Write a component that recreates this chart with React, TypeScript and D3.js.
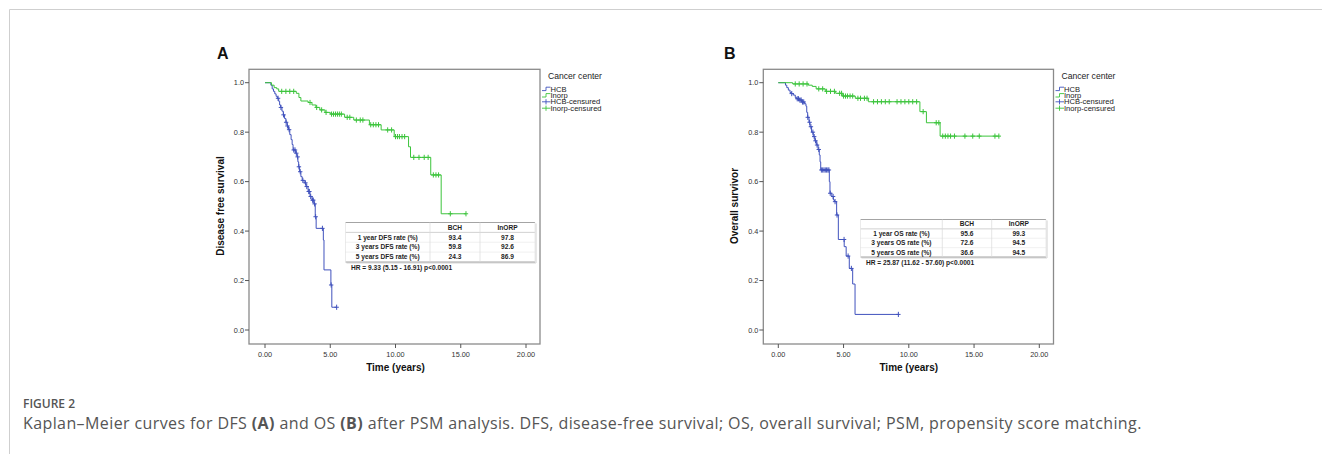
import * as d3 from "d3";
import { useEffect, useRef } from "react";

// axis ticks
const timeTicks = [0, 5, 10, 15, 20];
const survTicks = [0, 0.2, 0.4, 0.6, 0.8, 1.0];
const legendItems = ["HCB", "Inorp", "HCB-censured", "Inorp-censured"];
const colHeaders = ["BCH", "InORP"];

// Panel A - disease free survival (event times / survival after event / censored times)
const dfsHcbT = [0.45, 0.55, 0.65, 0.75, 0.85, 0.95, 1.05, 1.12, 1.2, 1.3, 1.4, 1.5, 1.6, 1.7, 1.8, 1.9, 2.0, 2.08, 2.15, 2.35, 2.45, 2.52, 2.58, 2.65, 2.75, 2.85, 3.0, 3.15, 3.3, 3.45, 3.6, 3.75, 3.85, 3.92, 4.47, 4.52, 5.05, 5.12];
const dfsHcbS = [0.99, 0.975, 0.965, 0.955, 0.945, 0.937, 0.925, 0.91, 0.9, 0.885, 0.87, 0.855, 0.84, 0.825, 0.81, 0.79, 0.77, 0.75, 0.728, 0.715, 0.7, 0.68, 0.66, 0.64, 0.62, 0.605, 0.595, 0.58, 0.56, 0.54, 0.525, 0.51, 0.458, 0.411, 0.364, 0.243, 0.182, 0.092];
const dfsHcbC = [1.0, 1.22, 1.42, 1.62, 1.72, 1.85, 2.2, 2.3, 2.4, 2.5, 2.6, 2.7, 2.9, 3.1, 3.2, 3.35, 3.4, 3.5, 3.65, 3.7, 3.8, 3.88, 4.4, 5.07, 5.49];
const dfsInorpT = [0.5, 0.7, 0.9, 1.05, 2.4, 2.6, 2.75, 3.3, 3.6, 3.9, 4.2, 4.6, 5.0, 6.1, 6.8, 8.0, 8.9, 9.9, 11.0, 11.15, 12.7, 13.5];
const dfsInorpS = [0.99, 0.98, 0.975, 0.965, 0.957, 0.94, 0.926, 0.92, 0.91, 0.9, 0.89, 0.88, 0.873, 0.86, 0.849, 0.83, 0.809, 0.782, 0.741, 0.698, 0.627, 0.47];
const dfsInorpC = [1.28, 1.6, 1.9, 2.2, 3.45, 3.96, 4.34, 4.68, 5.1, 5.25, 5.4, 5.55, 5.7, 5.85, 6.3, 6.5, 7.0, 7.3, 7.5, 8.1, 8.3, 8.5, 8.7, 9.4, 9.7, 10.0, 10.15, 10.3, 10.5, 10.7, 11.4, 11.8, 12.2, 12.5, 12.9, 13.1, 13.3, 14.2, 15.4];
const dfsRows = ["1 year DFS rate (%)", "3 years DFS rate (%)", "5 years DFS rate (%)"];
const dfsBch = ["93.4", "59.8", "24.3"];
const dfsInorp = ["97.8", "92.6", "86.9"];
const dfsHr = "HR = 9.33 (5.15 - 16.91) p<0.0001";

// Panel B - overall survival
const osHcbT = [0.55, 0.65, 0.77, 0.9, 1.02, 1.15, 1.3, 1.41, 1.6, 1.79, 2.0, 2.12, 2.18, 2.25, 2.35, 2.43, 2.55, 2.68, 2.8, 2.94, 3.05, 3.14, 3.2, 3.25, 3.91, 3.96, 4.1, 4.22, 4.3, 4.47, 4.6, 5.05, 5.2, 5.44, 5.7, 5.88];
const osHcbS = [0.99, 0.98, 0.97, 0.96, 0.956, 0.95, 0.94, 0.935, 0.93, 0.922, 0.915, 0.905, 0.88, 0.86, 0.84, 0.822, 0.8, 0.782, 0.765, 0.748, 0.73, 0.708, 0.68, 0.647, 0.6, 0.553, 0.54, 0.526, 0.519, 0.465, 0.366, 0.337, 0.299, 0.249, 0.186, 0.063];
const osHcbC = [1.03, 1.45, 1.55, 1.65, 1.75, 1.85, 1.95, 2.26, 2.4, 2.5, 2.65, 2.75, 2.85, 2.97, 3.1, 3.3, 3.4, 3.5, 3.6, 3.7, 3.8, 3.88, 3.98, 4.2, 4.35, 4.5, 5.04, 5.35, 5.6, 9.2];
const osInorpT = [1.1, 2.3, 2.6, 2.9, 3.6, 4.4, 4.9, 5.9, 6.9, 10.85, 11.35, 12.4];
const osInorpS = [0.995, 0.99, 0.985, 0.975, 0.965, 0.957, 0.946, 0.937, 0.923, 0.883, 0.838, 0.784];
const osInorpC = [1.3, 1.6, 1.9, 2.2, 3.1, 3.4, 3.7, 4.0, 4.3, 4.7, 4.85, 5.0, 5.15, 5.3, 5.5, 5.7, 6.1, 6.3, 6.6, 6.8, 7.3, 7.6, 7.9, 8.2, 8.5, 9.1, 9.4, 9.7, 10.0, 10.3, 10.6, 11.1, 12.1, 12.3, 12.6, 12.8, 13.0, 13.2, 13.5, 14.3, 14.9, 15.4, 16.6, 16.9];
const osRows = ["1 year OS rate (%)", "3 years OS rate (%)", "5 years OS rate (%)"];
const osBch = ["95.6", "72.6", "36.6"];
const osInorp = ["99.3", "94.5", "94.5"];
const osHr = "HR = 25.87 (11.62 - 57.60) p<0.0001";

const BLUE = "#4052bd";
const GREEN = "#3cc43c";
const FONT = "'Liberation Sans', Arial, sans-serif";

type Series = { t: number[]; s: number[]; c: number[]; color: string };

function survAt(sr: Series, t: number) {
  let v = 1;
  sr.t.forEach((e, i) => {
    if (e <= t) v = sr.s[i];
  });
  return v;
}

function drawPanel(svg: any, cfg: any) {
  const x = d3.scaleLinear().domain([0, 20]).range([cfg.x0, cfg.x20]);
  const y = d3.scaleLinear().domain([0, 1]).range([330, 82.7]);
  const g = svg.append("g");

  // panel letter
  g.append("text").attr("x", cfg.letterX).attr("y", 59).attr("font-family", FONT)
    .attr("font-weight", "bold").attr("font-size", 16).attr("fill", "#111").text(cfg.letter);

  // plot frame
  g.append("rect").attr("x", cfg.l).attr("y", 69.3).attr("width", cfg.r - cfg.l).attr("height", 344 - 69.3)
    .attr("fill", "none").attr("stroke", "#8a8a8a").attr("stroke-width", 1.3);

  // y ticks
  survTicks.forEach((v) => {
    g.append("line").attr("x1", cfg.l - 4).attr("x2", cfg.l).attr("y1", y(v)).attr("y2", y(v)).attr("stroke", "#555");
    g.append("text").attr("x", cfg.l - 5).attr("y", y(v) + 2.5).attr("text-anchor", "end")
      .attr("font-family", FONT).attr("font-size", 7.3).attr("fill", "#333").text(v.toFixed(1));
  });
  // x ticks
  timeTicks.forEach((v) => {
    g.append("line").attr("x1", x(v)).attr("x2", x(v)).attr("y1", 344).attr("y2", 348).attr("stroke", "#555");
    g.append("text").attr("x", x(v)).attr("y", 356.5).attr("text-anchor", "middle")
      .attr("font-family", FONT).attr("font-size", 7.3).attr("fill", "#333").text(v.toFixed(2));
  });

  g.append("text").attr("x", x(10)).attr("y", 371).attr("text-anchor", "middle").attr("font-family", FONT)
    .attr("font-weight", "bold").attr("font-size", 10).attr("fill", "#111").text("Time (years)");
  g.append("text").attr("transform", `translate(${cfg.yLabelX},206) rotate(-90)`).attr("text-anchor", "middle")
    .attr("font-family", FONT).attr("font-weight", "bold").attr("font-size", 10).attr("fill", "#111").text(cfg.yLabel);

  // curves
  const line = d3.line<number[]>().x((d) => x(d[0])).y((d) => y(d[1])).curve(d3.curveStepAfter);
  cfg.series.forEach((sr: Series) => {
    const last = sr.s[sr.s.length - 1];
    const end = Math.max(d3.max(sr.c) as number, sr.t[sr.t.length - 1]);
    const pts = [[0, 1], ...sr.t.map((t, i) => [t, sr.s[i]]), [end, last]];
    g.append("path").attr("d", line(pts)).attr("fill", "none").attr("stroke", sr.color).attr("stroke-width", 1);
    sr.c.forEach((ct) => {
      const cx = x(ct);
      const cy = y(survAt(sr, ct));
      g.append("path").attr("d", `M${cx - 2.2},${cy}H${cx + 2.2}M${cx},${cy - 2.6}V${cy + 2.6}`)
        .attr("stroke", sr.color).attr("stroke-width", 1).attr("fill", "none");
    });
  });

  // legend
  const lx = cfg.r;
  g.append("text").attr("x", lx + 8).attr("y", 79).attr("font-family", FONT).attr("font-size", 8.6)
    .attr("fill", "#222").text("Cancer center");
  const colors = [BLUE, GREEN, BLUE, GREEN];
  legendItems.forEach((name, i) => {
    const ly = 89 + i * 6.4;
    if (i < 2) {
      g.append("path").attr("d", `M${lx + 2},${ly + 1.6}H${lx + 6}V${ly - 1.8}H${lx + 10.5}`)
        .attr("fill", "none").attr("stroke", colors[i]).attr("stroke-width", 0.9);
    } else {
      g.append("path").attr("d", `M${lx + 2},${ly}H${lx + 10.5}M${lx + 6},${ly - 2.6}V${ly + 2.6}`)
        .attr("fill", "none").attr("stroke", colors[i]).attr("stroke-width", 0.9);
    }
    g.append("text").attr("x", lx + 10.5).attr("y", ly + 2.6).attr("font-family", FONT).attr("font-size", 7.6)
      .attr("fill", "#222").text(name);
  });

  // summary table
  const tb = cfg.table;
  const rowH = (tb.b - tb.t) / 4;
  const tg = g.append("g");
  tg.append("rect").attr("x", tb.l).attr("y", tb.t).attr("width", tb.r - tb.l).attr("height", tb.b - tb.t)
    .attr("fill", "#fff").attr("stroke", "none");
  // shadow lines
  tg.append("line").attr("x1", tb.l + 1).attr("x2", tb.r + 1).attr("y1", tb.b + 1).attr("y2", tb.b + 1).attr("stroke", "#d8d8d8").attr("stroke-width", 1.2);
  tg.append("line").attr("x1", tb.r + 1).attr("x2", tb.r + 1).attr("y1", tb.t + 1).attr("y2", tb.b + 1).attr("stroke", "#d8d8d8").attr("stroke-width", 1.2);
  [tb.t, tb.b].forEach((yy) => {
    tg.append("line").attr("x1", tb.l).attr("x2", tb.r).attr("y1", yy).attr("y2", yy).attr("stroke", "#9a9a9a").attr("stroke-width", 0.9);
  });
  [1, 2, 3].forEach((k) => {
    tg.append("line").attr("x1", tb.l).attr("x2", tb.r).attr("y1", tb.t + rowH * k).attr("y2", tb.t + rowH * k)
      .attr("stroke", k === 1 ? "#bdbdbd" : "#d6d6d6").attr("stroke-width", 0.7).attr("stroke-dasharray", k === 1 ? null : "1,1");
  });
  [tb.c1, tb.c2].forEach((xx) => {
    tg.append("line").attr("x1", xx).attr("x2", xx).attr("y1", tb.t).attr("y2", tb.b).attr("stroke", "#dadada").attr("stroke-width", 0.7);
  });
  [tb.l, tb.r].forEach((xx) => {
    tg.append("line").attr("x1", xx).attr("x2", xx).attr("y1", tb.t).attr("y2", tb.b).attr("stroke", "#e2e2e2").attr("stroke-width", 0.7);
  });
  const cx = [(tb.l + tb.c1) / 2, (tb.c1 + tb.c2) / 2, (tb.c2 + tb.r) / 2];
  const cell = (xx: number, yy: number, txt: string) =>
    tg.append("text").attr("x", xx).attr("y", yy).attr("text-anchor", "middle").attr("font-family", FONT)
      .attr("font-weight", "bold").attr("font-size", 6.6).attr("fill", "#1e1e1e").text(txt);
  colHeaders.forEach((h, i) => cell(cx[i + 1], tb.t + rowH * 0.5 + 2.3, h));
  cfg.rows.forEach((r: string, i: number) => {
    const yy = tb.t + rowH * (i + 1.5) + 2.3;
    cell(cx[0], yy, r);
    cell(cx[1], yy, cfg.bch[i]);
    cell(cx[2], yy, cfg.inorp[i]);
  });
  tg.append("text").attr("x", tb.l + 5.5).attr("y", tb.b + 7.5).attr("font-family", FONT)
    .attr("font-weight", "bold").attr("font-size", 6.6).attr("fill", "#1e1e1e").text(cfg.hr);
}

export default function App() {
  const ref = useRef<SVGSVGElement>(null);

  useEffect(() => {
    const svg = d3.select(ref.current);
    svg.selectAll("*").remove();

    // figure frame (top + left rule)
    svg.append("path").attr("d", "M9.5,454V9.5H1322").attr("fill", "none").attr("stroke", "#cfcfcf").attr("stroke-width", 1);

    drawPanel(svg, {
      letter: "A", letterX: 217, l: 249, r: 540, x0: 265, x20: 526, yLabelX: 224,
      yLabel: "Disease free survival",
      series: [
        { t: dfsHcbT, s: dfsHcbS, c: dfsHcbC, color: BLUE },
        { t: dfsInorpT, s: dfsInorpS, c: dfsInorpC, color: GREEN },
      ],
      table: { l: 345.5, r: 535, t: 222.5, b: 262, c1: 430, c2: 480 },
      rows: dfsRows, bch: dfsBch, inorp: dfsInorp, hr: dfsHr,
    });
    drawPanel(svg, {
      letter: "B", letterX: 724, l: 763.3, r: 1053.5, x0: 778.3, x20: 1039.3, yLabelX: 738,
      yLabel: "Overall survivor",
      series: [
        { t: osHcbT, s: osHcbS, c: osHcbC, color: BLUE },
        { t: osInorpT, s: osInorpS, c: osInorpC, color: GREEN },
      ],
      table: { l: 860.5, r: 1046, t: 219.5, b: 257, c1: 942.3, c2: 991.7 },
      rows: osRows, bch: osBch, inorp: osInorp, hr: osHr,
    });

    // caption
    svg.append("text").attr("x", 23).attr("y", 407.5).attr("font-family", "'Open Sans', sans-serif")
      .attr("font-weight", 600).attr("font-size", 12).attr("fill", "#555").text("FIGURE 2");
    const cap = svg.append("text").attr("x", 23).attr("y", 428.5).attr("font-family", "'Open Sans', sans-serif")
      .attr("font-size", 16).attr("letter-spacing", 0.4).attr("fill", "#555");
    const parts: [string, boolean][] = [
      ["Kaplan\u2013Meier curves for DFS ", false], ["(A)", true], [" and OS ", false], ["(B)", true],
      [" after PSM analysis. DFS, disease-free survival; OS, overall survival; PSM, propensity score matching.", false],
    ];
    parts.forEach(([txt, b]) => cap.append("tspan").attr("font-weight", b ? 700 : 400).text(txt));
  }, []);

  return (
    <svg ref={ref} width={1322} height={454}
      style={{ position: "absolute", left: 0, top: 0, background: "#fff", display: "block" }} />
  );
}
